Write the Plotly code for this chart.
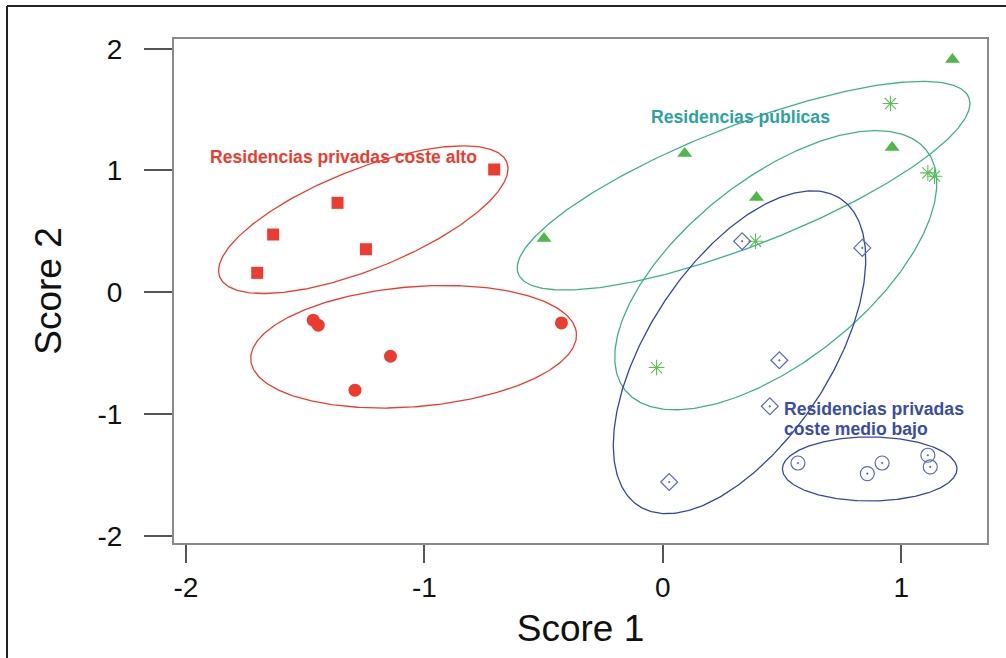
import numpy as np
import plotly.graph_objects as go

# ---- data ----
red_sq_x = [-1.701, -1.634, -1.364, -1.245, -0.707]
red_sq_y = [0.159, 0.474, 0.734, 0.353, 1.008]

red_ci_x = [-1.466, -1.445, -1.142, -1.291, -0.425]
red_ci_y = [-0.230, -0.271, -0.526, -0.805, -0.252]

grn_tri_x = [-0.498, 0.092, 0.393, 0.962, 1.215]
grn_tri_y = [0.441, 1.140, 0.778, 1.189, 1.912]

grn_ast_x = [0.955, 0.389, 1.112, 1.140, -0.026]
grn_ast_y = [1.550, 0.419, 0.980, 0.953, -0.619]

blu_dia_x = [0.333, 0.837, 0.489, 0.449, 0.027]
blu_dia_y = [0.419, 0.364, -0.559, -0.937, -1.559]

blu_ci_x = [0.567, 0.858, 0.920, 1.112, 1.122]
blu_ci_y = [-1.403, -1.490, -1.403, -1.339, -1.435]

# ellipses: centre and two conjugate semi-axis vectors (data units)
ell_names = ["red_hi", "red_lo", "grn_1", "grn_2", "blu_1", "blu_2"]
ell_cx = [-1.256, -1.045, 0.339, 0.474, 0.322, 0.868]
ell_cy = [0.596, -0.448, 0.875, 0.181, -0.493, -1.452]
ell_ax = [0.602, 0.683, 0.945, 0.632, 0.424, 0.366]
ell_ay = [0.472, 0.111, 0.724, 0.985, 1.261, 0.0]
ell_bx = [0.078, 0.021, 0.092, 0.238, 0.317, 0.0]
ell_by = [-0.381, -0.491, -0.459, -0.587, -0.410, -0.263]
ell_col = ["#EF3B2E", "#EF3B2E", "#3DB385", "#3DB385", "#3446A8", "#3446A8"]

tick_vals = [-2, -1, 0, 1, 2]
tick_text = ["-2", "-1", "0", "1", "2"]

RED = "#EE3B30"
GREEN = "#4CB848"
BLUE_M = "#5A68C0"

fig = go.Figure()

t = np.linspace(0, 2 * np.pi, 361)
for i in range(len(ell_names)):
    ex = ell_cx[i] + ell_ax[i] * np.cos(t) + ell_bx[i] * np.sin(t)
    ey = ell_cy[i] + ell_ay[i] * np.cos(t) + ell_by[i] * np.sin(t)
    fig.add_trace(go.Scatter(x=ex, y=ey, mode="lines",
                             line=dict(color=ell_col[i], width=1.3),
                             hoverinfo="skip", showlegend=False))

fig.add_trace(go.Scatter(x=red_sq_x, y=red_sq_y, mode="markers",
                         marker=dict(symbol="square", size=12, color=RED),
                         showlegend=False))
fig.add_trace(go.Scatter(x=red_ci_x, y=red_ci_y, mode="markers",
                         marker=dict(symbol="circle", size=13, color=RED),
                         showlegend=False))
fig.add_trace(go.Scatter(x=grn_tri_x, y=grn_tri_y, mode="markers",
                         marker=dict(symbol="triangle-up", size=13, color=GREEN),
                         showlegend=False))
fig.add_trace(go.Scatter(x=grn_ast_x, y=grn_ast_y, mode="markers",
                         marker=dict(symbol="asterisk-open", size=13, color="#5CC058",
                                     line=dict(color="#5CC058", width=1.1)),
                         showlegend=False))
fig.add_trace(go.Scatter(x=blu_dia_x, y=blu_dia_y, mode="markers",
                         marker=dict(symbol="diamond-open-dot", size=13, color=BLUE_M,
                                     line=dict(color=BLUE_M, width=1.2)),
                         showlegend=False))
fig.add_trace(go.Scatter(x=blu_ci_x, y=blu_ci_y, mode="markers",
                         marker=dict(symbol="circle-open-dot", size=14, color=BLUE_M,
                                     line=dict(color=BLUE_M, width=1.2)),
                         showlegend=False))

FONT = "Liberation Sans, Arial, sans-serif"
ann_font = dict(family=FONT, size=17.6)
fig.add_annotation(x=-1.908, y=1.109, text="<b>Residencias privadas coste alto</b>",
                   showarrow=False, xanchor="left", yanchor="middle",
                   font=dict(ann_font, color="#EF3B2E"))
fig.add_annotation(x=-0.059, y=1.438, text="<b>Residencias públicas</b>",
                   showarrow=False, xanchor="left", yanchor="middle",
                   font=dict(ann_font, color="#2AA39E"))
fig.add_annotation(x=0.499, y=-0.961, text="<b>Residencias privadas</b>",
                   showarrow=False, xanchor="left", yanchor="middle",
                   font=dict(ann_font, color="#3A4DA6"))
fig.add_annotation(x=0.499, y=-1.126, text="<b>coste medio bajo</b>",
                   showarrow=False, xanchor="left", yanchor="middle",
                   font=dict(ann_font, color="#3A4DA6"))

# outer frame lines (figure border)
fig.add_shape(type="line", xref="paper", yref="paper", x0=-0.2054, x1=-0.2054,
              y0=1.0655, y1=-0.3, line=dict(color="#222222", width=2))
fig.add_shape(type="line", xref="paper", yref="paper", x0=-0.2054, x1=1.05,
              y0=1.0655, y1=1.0655, line=dict(color="#222222", width=2))

axis_common = dict(showgrid=False, zeroline=False, showline=True, mirror=True,
                   linecolor="#8a8a8a", linewidth=2, ticks="outside",
                   tickcolor="#555555", tickwidth=2,
                   tickfont=dict(family=FONT, size=28, color="#111111"),
                   tickvals=tick_vals, ticktext=tick_text)

fig.update_layout(
    width=1006, height=658,
    margin=dict(l=174, r=19, t=39, b=115),
    paper_bgcolor="white", plot_bgcolor="white",
    xaxis=dict(axis_common, range=[-2.05, 1.36], ticklen=18,
               title=dict(text="Score 1", font=dict(family=FONT, size=37, color="#111111"),
                          standoff=14)),
    yaxis=dict(axis_common, range=[-2.06, 2.08], ticklen=28, ticklabelstandoff=16,
               title=dict(text="Score 2", font=dict(family=FONT, size=37, color="#111111"),
                          standoff=25)),
    showlegend=False,
)

fig.write_html("out.html", config={"displayModeBar": False},
               post_script="document.body.style.margin='0px';")
